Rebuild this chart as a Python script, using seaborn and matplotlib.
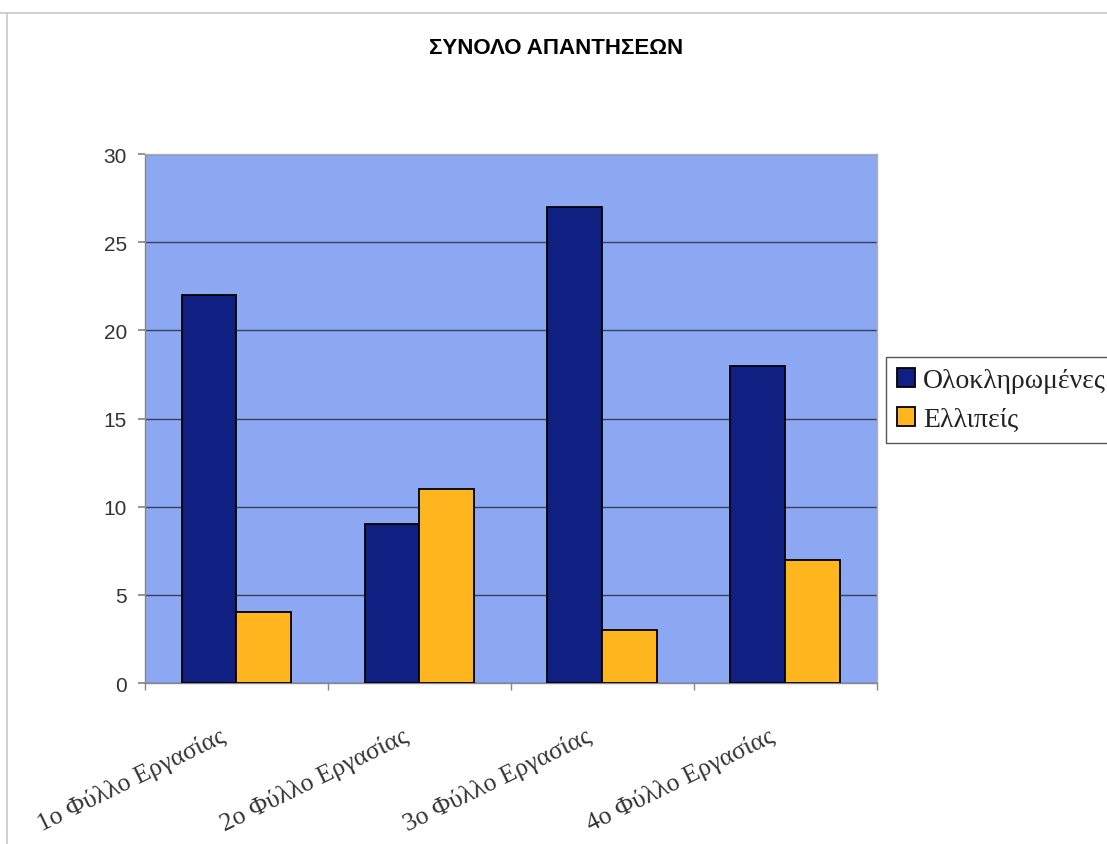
import matplotlib
matplotlib.use("Agg")
import matplotlib.pyplot as plt
import matplotlib.transforms as mtransforms
from matplotlib.lines import Line2D
import seaborn as sns
import pandas as pd

categories = ["1ο Φύλλο Εργασίας", "2ο Φύλλο Εργασίας", "3ο Φύλλο Εργασίας", "4ο Φύλλο Εργασίας"]
complete = [22, 9, 27, 18]
partial = [4, 11, 3, 7]
series_names = ["Ολοκληρωμένες", "Ελλιπείς"]
title = "ΣΥΝΟΛΟ ΑΠΑΝΤΗΣΕΩΝ"

df = pd.DataFrame({
    "category": categories * 2,
    "series": [series_names[0]] * len(categories) + [series_names[1]] * len(categories),
    "value": complete + partial,
})

sns.set_theme(style="white")
plt.rcParams["font.family"] = ["Liberation Sans", "DejaVu Sans"]

fig = plt.figure(figsize=(11.07, 8.45), dpi=100)
fig.patch.set_facecolor("white")
ax = fig.add_axes([0.131, 0.1905, 0.661, 0.626])

palette = {series_names[0]: "#101F82", series_names[1]: "#FFB61E"}
sns.barplot(data=df, x="category", y="value", hue="series", palette=palette,
            width=0.6, edgecolor="black", linewidth=1.3, saturation=1,
            ax=ax, zorder=3)

ax.set_facecolor("#8DA8F2")
ax.set_ylim(0, 30)
ax.set_xlim(-0.5, len(categories) - 0.5)
ax.set_yticks(range(0, 31, 5))
ax.yaxis.grid(True, color="#3a3f5a", linewidth=1.0, zorder=1)
ax.set_axisbelow(True)
ax.set_xlabel("")
ax.set_ylabel("")

# category boundaries carry the tick marks, labels sit at the group centres
ax.set_xticks([i - 0.5 for i in range(len(categories) + 1)], minor=True)
ax.tick_params(axis="x", which="minor", length=5, color="#888888", width=1, bottom=True)
ax.tick_params(axis="x", which="major", length=0, pad=37)
ax.tick_params(axis="y", which="major", length=5, color="#888888", left=True, labelsize=15,
               labelcolor="#333333", pad=8)
ax.set_xticks(range(len(categories)))
ax.set_xticklabels(categories, rotation=26, ha="right", va="center", rotation_mode="anchor",
                   fontsize=18.5, family=["Liberation Serif", "DejaVu Serif"], color="#333333")
shift = mtransforms.ScaledTranslation(-12 / 100, 0, fig.dpi_scale_trans)
for lbl in ax.get_xticklabels():
    lbl.set_transform(lbl.get_transform() + shift)

for side in ["top", "right"]:
    ax.spines[side].set_color("#b0b0b0")
    ax.spines[side].set_linewidth(1)
for side in ["left", "bottom"]:
    ax.spines[side].set_color("#888888")
    ax.spines[side].set_linewidth(1)

leg = ax.legend(loc="center left", bbox_to_anchor=(0.8, 0.525), bbox_transform=fig.transFigure,
                frameon=True, fancybox=False, edgecolor="#555555", framealpha=1,
                prop={"family": ["Liberation Serif", "DejaVu Serif"], "size": 20},
                handlelength=0.65, handleheight=0.65, handletextpad=0.3,
                labelspacing=0.5, borderpad=0.4, borderaxespad=0)
leg.get_frame().set_linewidth(1)
for t in leg.get_texts():
    t.set_color("#222222")

fig.text(0.502, 0.943, title, ha="center", va="center", fontsize=16, fontweight="bold",
         family=["Liberation Sans Narrow", "Liberation Sans", "DejaVu Sans"], color="black")

# thin page border along the top and left edges
fig.add_artist(Line2D([0.0, 1.0], [0.984, 0.984], color="#c8c8c8", linewidth=1.2))
fig.add_artist(Line2D([0.0065, 0.0065], [0.0, 0.984], color="#c8c8c8", linewidth=1.2))

fig.savefig("out.png", dpi=100)
